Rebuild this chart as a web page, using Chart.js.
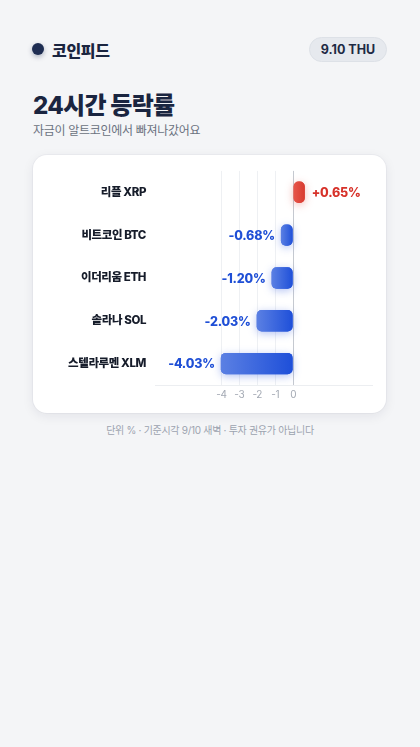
<!DOCTYPE html>
<html lang="ko">
<head>
<meta charset="utf-8">
<script src="https://cdn.jsdelivr.net/npm/chart.js@4"></script>
<style>
  html, body { margin: 0; padding: 0; }
  body {
    width: 420px; height: 747px; background: #f4f5f7; position: relative; overflow: hidden;
    font-family: Inter, "Noto Sans CJK KR", "Noto Sans", sans-serif; color: #1a2540;
  }
  .dot {
    position: absolute; left: 32px; top: 43px; width: 12px; height: 12px; border-radius: 50%;
    background: #1e2d52; box-shadow: 0 2px 5px rgba(30,45,82,0.35);
  }
  .brand { position: absolute; left: 52px; top: 38px; font-size: 16px; font-weight: 800; letter-spacing: -0.3px; }
  .pill {
    position: absolute; left: 309px; top: 37px; width: 78px; height: 25px; border-radius: 13px;
    background: #e6e9ee; border: 1px solid #dde1e7; box-sizing: border-box;
    font-size: 12.5px; font-weight: 700; line-height: 23px; text-align: center; color: #1e2a44;
  }
  h1 { position: absolute; left: 33px; top: 86px; margin: 0; font-size: 24px; font-weight: 800; letter-spacing: -0.7px; color: #1a2540; }
  .sub { position: absolute; left: 33px; top: 121px; font-size: 12px; color: #6b7280; letter-spacing: -0.3px; }
  .card {
    position: absolute; left: 33px; top: 155px; width: 353px; height: 258px; border-radius: 14px;
    background: #fff; box-shadow: 0 3px 12px rgba(20,30,60,0.08), 0 0 0 1px rgba(20,30,60,0.03);
  }
  .wrap { position: absolute; left: 0; top: 0; width: 353px; height: 258px; }
  .foot { position: absolute; left: 0; width: 420px; top: 422px; text-align: center; font-size: 10px; color: #9ca3af; letter-spacing: -0.3px; }
</style>
</head>
<body>
<div class="dot"></div>
<div class="brand">코인피드</div>
<div class="pill">9.10 THU</div>
<h1>24시간 등락률</h1>
<div class="sub">자금이 알트코인에서 빠져나갔어요</div>
<div class="card"><div class="wrap"><canvas id="c"></canvas></div></div>
<div class="foot">단위 % · 기준시각 9/10 새벽 · 투자 권유가 아닙니다</div>
<script>
const coins = ['리플 XRP', '비트코인 BTC', '이더리움 ETH', '솔라나 SOL', '스텔라루멘 XLM'];
const changes = [0.65, -0.68, -1.20, -2.03, -4.03];
const tickValues = [-4, -3, -2, -1, 0];

const fontFamily = 'Inter, "Noto Sans CJK KR", sans-serif';

function barFill(context) {
  const chart = context.chart;
  const v = context.raw;
  const x = chart.scales.x;
  if (!x || !chart.chartArea) return v < 0 ? '#2f5be0' : '#dd4036';
  const p0 = x.getPixelForValue(0);
  const p1 = x.getPixelForValue(v);
  const g = chart.ctx.createLinearGradient(Math.min(p0, p1), 0, Math.max(p0, p1), 0);
  if (v < 0) {
    g.addColorStop(0, '#5b80e3');
    g.addColorStop(1, '#1e4fd9');
  } else {
    g.addColorStop(0, '#e8564b');
    g.addColorStop(1, '#d83a2f');
  }
  return g;
}

// tighter letters, like the reference
const spacing = {
  id: 'spacing',
  beforeDraw(chart) { chart.ctx.letterSpacing = '-0.4px'; }
};

const glowPlugin = {
  id: 'glow',
  beforeDatasetsDraw(chart) {
    const ctx = chart.ctx;
    const meta = chart.getDatasetMeta(0);
    meta.data.forEach((bar, i) => {
      ctx.save();
      ctx.shadowColor = changes[i] < 0 ? 'rgba(37,80,220,0.35)' : 'rgba(220,50,40,0.35)';
      ctx.shadowBlur = 9;
      ctx.shadowOffsetY = 2;
      bar.draw(ctx, chart.chartArea);
      ctx.restore();
    });
  }
};

const valueLabels = {
  id: 'valueLabels',
  afterDatasetsDraw(chart) {
    const ctx = chart.ctx;
    const meta = chart.getDatasetMeta(0);
    ctx.save();
    ctx.letterSpacing = '-0.2px';
    ctx.font = '800 12.5px ' + fontFamily;
    ctx.textBaseline = 'middle';
    meta.data.forEach((bar, i) => {
      const v = changes[i];
      const txt = (v > 0 ? '+' : '') + v.toFixed(2) + '%';
      if (v < 0) {
        ctx.fillStyle = '#1f4fd6';
        ctx.textAlign = 'right';
        ctx.fillText(txt, Math.min(bar.x, bar.base) - 6, bar.y + 1);
      } else {
        ctx.fillStyle = '#d7322a';
        ctx.textAlign = 'left';
        ctx.fillText(txt, Math.max(bar.x, bar.base) + 7, bar.y + 1);
      }
    });
    ctx.restore();
  }
};

new Chart(document.getElementById('c'), {
  type: 'bar',
  data: {
    labels: coins,
    datasets: [{
      data: changes,
      backgroundColor: barFill,
      borderRadius: 5,
      borderSkipped: false,
      categoryPercentage: 1,
      barPercentage: 0.5
    }]
  },
  options: {
    indexAxis: 'y',
    responsive: true,
    maintainAspectRatio: false,
    animation: false,
    layout: { padding: { left: 0, right: 14, top: 13, bottom: 8 } },
    plugins: { legend: { display: false }, tooltip: { enabled: false } },
    scales: {
      x: {
        min: -7.7,
        max: 4.4,
        afterBuildTicks(scale) {
          scale.ticks = tickValues.map(v => ({ value: v }));
        },
        ticks: {
          color: '#a3a9b3',
          font: { size: 10, family: fontFamily },
          padding: 4,
          callback: v => String(v)
        },
        grid: {
          drawTicks: false,
          color: ctx => ctx.tick && ctx.tick.value === 0 ? '#c5c9d0' : '#eef0f3',
          lineWidth: 1
        },
        border: { display: true, color: '#eceef1' }
      },
      y: {
        afterFit(scale) { scale.width = 122; },
        ticks: {
          color: '#161c2a',
          font: { size: 11.5, weight: '800', family: fontFamily },
          padding: 9
        },
        grid: { display: false, drawTicks: false },
        border: { display: false }
      }
    }
  },
  plugins: [spacing, glowPlugin, valueLabels]
});
</script>
</body>
</html>
